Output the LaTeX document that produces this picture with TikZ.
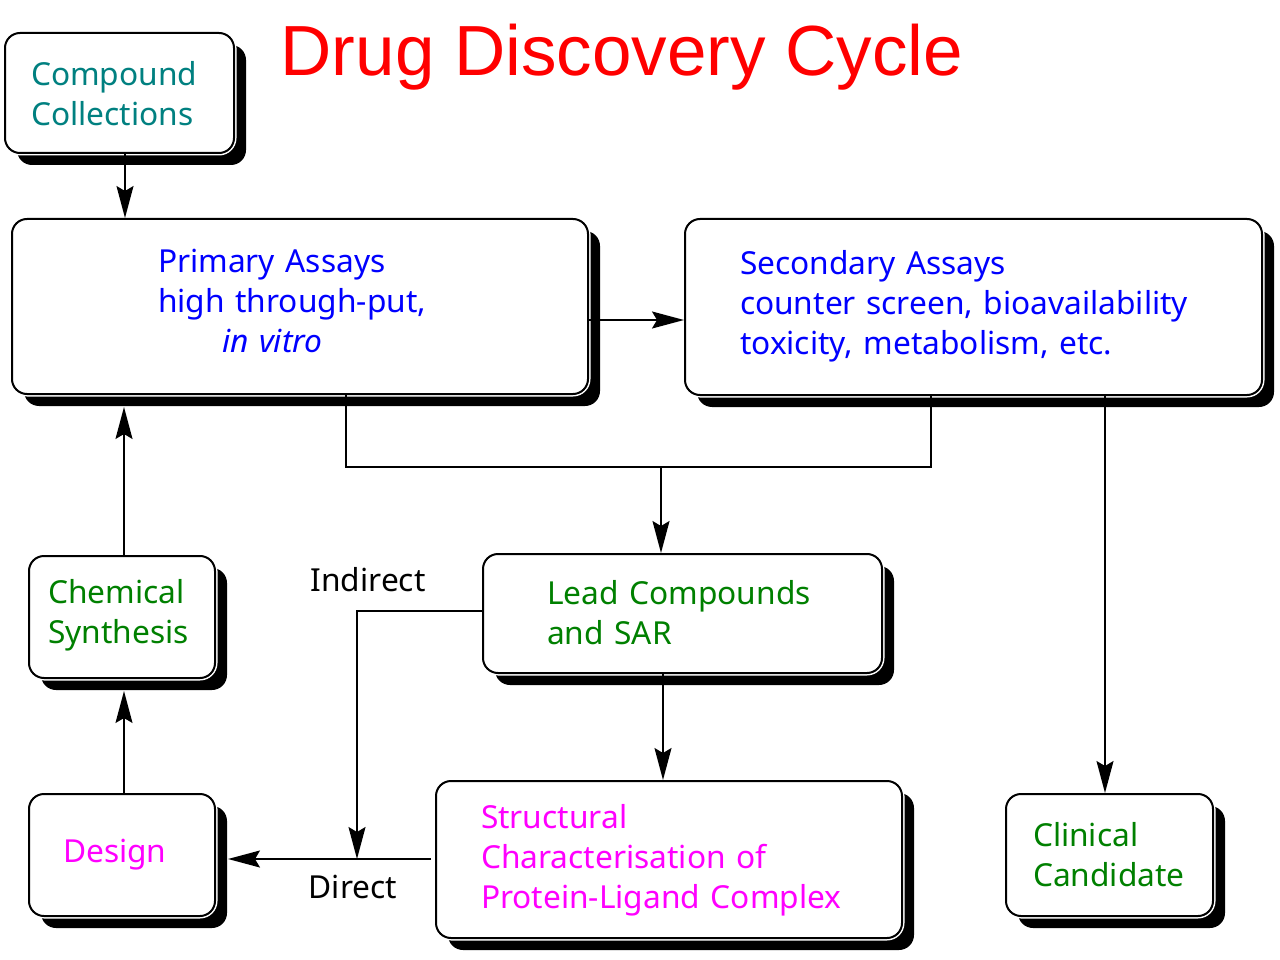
\documentclass[tikz,border=0pt]{standalone}
\usepackage{fontspec}
\setmainfont{Noto Sans}
\newfontfamily\titlefont{Liberation Sans}
\usetikzlibrary{shadows,arrows.meta}
\definecolor{tealc}{RGB}{0,128,128}
\definecolor{greenc}{RGB}{0,128,0}
\definecolor{bluec}{RGB}{0,0,255}
\definecolor{magc}{RGB}{255,0,255}
\definecolor{redc}{RGB}{255,0,0}
\newcommand\btxt[2][0pt]{\raisebox{#1}[\height][\depth]{\begin{tabular}{@{}l@{}}#2\end{tabular}}}
\begin{document}
\begin{tikzpicture}[x=1pt,y=-1pt,
  box/.style={draw=black, line width=2pt, fill=white, rounded corners=15pt,
    general shadow={fill=black, shadow xshift=12pt, shadow yshift=-12pt},
    preaction={draw=white, line width=5pt},
    align=left, inner ysep=0pt,
    font=\fontsize{31.7}{40}\selectfont},
  lbl/.style={font=\fontsize{31.7}{40}\selectfont, inner sep=0pt},
  conn/.style={line width=1.6pt},
  arr/.style={conn, -{Stealth[length=32pt,width=17pt,inset=5pt]}}
]
\useasboundingbox (0,0) rectangle (1280,960);
\fill[white] (0,0) rectangle (1280,960);

% title
\node[text=redc, font=\titlefont\fontsize{71}{80}\selectfont, inner sep=0pt] (title) at (622,57) {Drug Discovery Cycle};

% boxes
\node[box, text=tealc, text width=177pt, inner xsep=26pt, minimum height=120pt] (cc) at (119.5,93)
  {\btxt[-4.5pt]{Compound\\Collections}};
\node[box, text=bluec, text width=284pt, inner xsep=146pt, minimum height=175pt] (pa) at (300,306.5)
  {\btxt[2pt]{Primary Assays\\high through-put,\\\hspace*{64pt}\itshape in vitro}};
\node[box, text=bluec, text width=467pt, inner xsep=55pt, minimum height=176pt] (sa) at (973.5,307)
  {\btxt[1pt]{Secondary Assays\\counter screen, bioavailability\\toxicity, metabolism, etc.}};
\node[box, text=greenc, text width=148pt, inner xsep=19pt, minimum height=122pt] (ch) at (122,617)
  {\btxt[2pt]{Chemical\\Synthesis}};
\node[box, text=greenc, text width=271pt, inner xsep=64pt, minimum height=119pt] (lc) at (682.5,613.5)
  {\btxt[-3pt]{Lead Compounds\\and SAR}};
\node[box, text=magc, text width=118pt, inner xsep=34pt, minimum height=122pt] (dn) at (122,855)
  {\btxt[1pt]{Design}};
\node[box, text=magc, text width=376pt, inner xsep=45pt, minimum height=157pt] (sc) at (669,859.5)
  {\btxt[-1pt]{Structural\\Characterisation of\\Protein-Ligand Complex}};
\node[box, text=greenc, text width=153pt, inner xsep=27pt, minimum height=122pt] (ca) at (1109.5,855)
  {\btxt[-3pt]{Clinical\\Candidate}};

% labels
\node[lbl] (ind) at (368,580) {Indirect};
\node[lbl] (dir) at (353,887) {Direct};

% helper coordinates
\coordinate (x125) at (125,0);
\coordinate (x124) at (124,0);
\coordinate (y320) at (0,320);
\coordinate (x346) at (346,0);
\coordinate (x931) at (931,0);
\coordinate (jn) at (661,467);
\coordinate (x1105) at (1105,0);
\coordinate (x663) at (663,0);
\coordinate (y611) at (0,611);
\coordinate (dj) at (357,859);

% connectors
\draw[arr] (cc.south -| x125) -- (pa.north -| x125);
\draw[arr] (pa.east |- y320) -- (sa.west |- y320);
\draw[conn] (pa.south -| x346) |- (jn) -| (sa.south -| x931);
\draw[arr] (jn) -- (lc.north -| jn);
\draw[arr] (sa.south -| x1105) -- (ca.north -| x1105);
\draw[arr] (lc.south -| x663) -- (sc.north -| x663);
\draw[arr] (lc.west |- y611) -| (dj);
\draw[arr] ([xshift=-4pt]sc.west |- dj) -- ([xshift=12pt]dn.east |- dj);
\draw[arr] (dn.north -| x124) -- ([yshift=-12pt]ch.south -| x124);
\draw[arr] (ch.north -| x124) -- ([yshift=-12pt]pa.south -| x124);
\end{tikzpicture}
\end{document}
